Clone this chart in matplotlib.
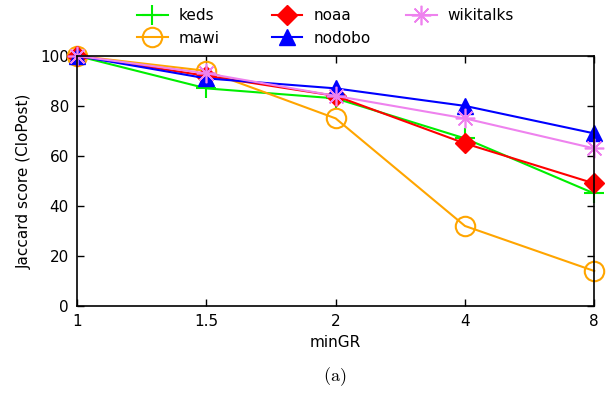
import matplotlib
matplotlib.use("Agg")
import matplotlib.pyplot as plt

plt.rcParams['mathtext.fontset'] = 'cm'

min_gr = ["1", "1.5", "2", "4", "8"]

keds = [100, 87, 83, 67, 45]
mawi = [100, 94, 75, 32, 14]
noaa = [100, 92, 84, 65, 49]
nodobo = [100, 91, 87, 80, 69]
wikitalks = [100, 93, 84, 75, 63]

series = [
    ("keds", keds, "#00ee00", dict(marker="+", markersize=14, markeredgewidth=1.5)),
    ("mawi", mawi, "#ffa500", dict(marker="o", markersize=14, markerfacecolor="none", markeredgewidth=1.5)),
    ("noaa", noaa, "#ff0000", dict(marker="D", markersize=10)),
    ("nodobo", nodobo, "#0000ff", dict(marker="^", markersize=12)),
    ("wikitalks", wikitalks, "#ee82ee", dict(marker=(8, 2, 0), markersize=14, markeredgewidth=1.2)),
]

fig = plt.figure(figsize=(6.07, 3.99), dpi=100)
ax = fig.add_axes([0.127, 0.233, 0.852, 0.627])

xs = list(range(len(min_gr)))
lines = []
for name, vals, col, mk in series:
    ln, = ax.plot(xs, vals, color=col, linewidth=1.5, label=name, markeredgecolor=col,
                  clip_on=False, **mk)
    lines.append(ln)

ax.set_xlim(0, len(min_gr) - 1)
ax.set_ylim(0, 100)
ax.set_xticks(xs)
ax.set_xticklabels(min_gr)
ax.set_yticks(range(0, 101, 20))
ax.tick_params(direction="in", length=5, width=1, top=True, right=True, labelsize=11, pad=6)
for s in ax.spines.values():
    s.set_linewidth(1.2)

ax.set_xlabel("minGR", fontsize=11, labelpad=4)
ax.set_ylabel("Jaccard score (CloPost)", fontsize=11, labelpad=6)

# three legend columns at fixed positions, like gnuplot's key
for i, x0 in enumerate([0.226, 0.448, 0.669]):
    grp = lines[2 * i:2 * i + 2]
    fig.legend(grp, [l.get_label() for l in grp], loc="upper left",
               bbox_to_anchor=(x0, 0.98), frameon=False, fontsize=11,
               handlelength=2.0, handletextpad=0.7, labelspacing=0.5,
               borderaxespad=0, borderpad=0)

fig.text(0.552, 0.055, r"$\mathrm{(a)}$", ha="center", va="center", fontsize=13)

fig.savefig("out.png", dpi=100)
